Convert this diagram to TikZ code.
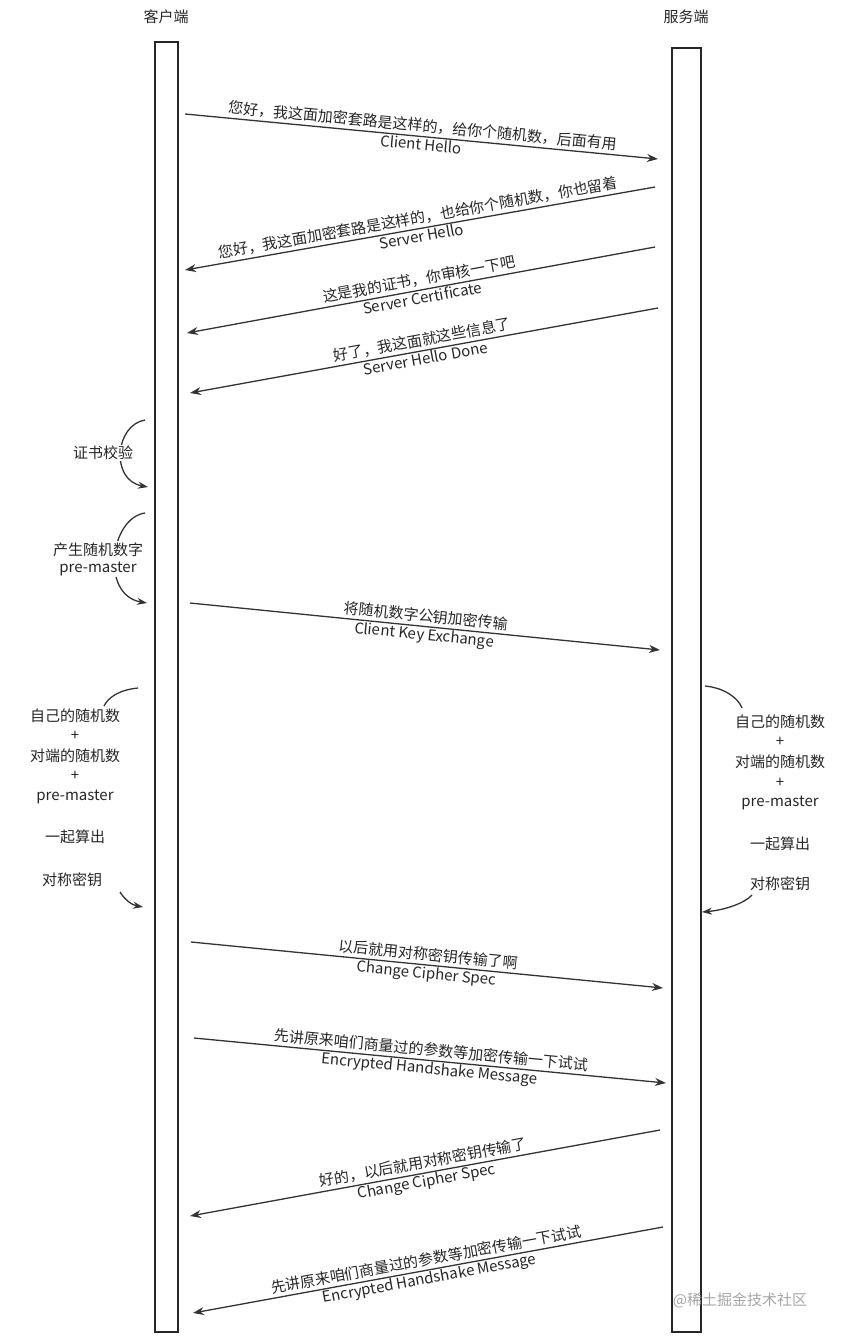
\documentclass[tikz,border=0pt]{standalone}
\usepackage{fontspec}
\setmainfont{Noto Sans CJK SC}
\usetikzlibrary{arrows.meta}
\begin{document}
\begin{tikzpicture}[x=1pt,y=-1pt,
  msg/.style={-{Stealth[length=11pt,width=8pt]},line width=1.3pt,black!80},
  curvearrow/.style={-{Stealth[length=10pt,width=7pt]},line width=1.3pt,black!80},
  curveline/.style={line width=1.3pt,black!80},
  lbl/.style={font=\fontsize{15}{17}\selectfont,text=black!85,inner sep=1pt},
  life/.style={draw=black!85,line width=1.5pt,fill=white}]
\useasboundingbox (0,0) rectangle (848,1338);
\node[lbl] (hc) at (166,17) {客户端};
\node[lbl] (hs) at (686,17) {服务端};
\draw[life] (155,42) rectangle (178,1332);
\draw[life] (672,48) rectangle (701,1332);
% messages
\coordinate (a1) at (185,114); \coordinate (b1) at (658,159);
\draw[msg] (a1) -- (b1) node[lbl,midway,sloped,above=2pt]{您好，我这面加密套路是这样的，给你个随机数，后面有用} node[lbl,midway,sloped,below=0pt]{Client Hello};
\coordinate (a2) at (655,187); \coordinate (b2) at (185,270);
\draw[msg] (a2) -- (b2) node[lbl,midway,sloped,above=2pt]{您好，我这面加密套路是这样的，也给你个随机数，你也留着} node[lbl,midway,sloped,below=0pt]{Server Hello};
\coordinate (a3) at (655,247); \coordinate (b3) at (187,333);
\draw[msg] (a3) -- (b3) node[lbl,midway,sloped,above=2pt]{这是我的证书，你审核一下吧} node[lbl,midway,sloped,below=0pt]{Server Certificate};
\coordinate (a4) at (658,308); \coordinate (b4) at (190,393);
\draw[msg] (a4) -- (b4) node[lbl,midway,sloped,above=2pt]{好了，我这面就这些信息了} node[lbl,midway,sloped,below=0pt]{Server Hello Done};
% local steps
\coordinate (c1) at (145,420); \coordinate (d1) at (148,487);
\draw[curvearrow] (c1) .. controls (115,425) and (110,480) .. (d1);
\node[lbl,fill=white] (t1) at (103,453) {证书校验};
\coordinate (c2) at (145,513); \coordinate (d2) at (147,603);
\draw[curvearrow] (c2) .. controls (110,518) and (100,595) .. (d2);
\node[lbl,align=center,fill=white] (t2) at (98,559) {产生随机数字\\pre-master};
\coordinate (a5) at (190,603); \coordinate (b5) at (660,650);
\draw[msg] (a5) -- (b5) node[lbl,midway,sloped,above=2pt]{将随机数字公钥加密传输} node[lbl,midway,sloped,below=0pt]{Client Key Exchange};
\coordinate (c3) at (138,688); \coordinate (d3) at (143,907);
\draw[curveline] (c3) .. controls (118,690) and (108,698) .. (104,706);
\draw[curvearrow] (120,892) .. controls (125,900) and (132,905) .. (d3);
\node[lbl] (l1) at (75,716) {自己的随机数};
\node[lbl] (l2) at (75,736) {+};
\node[lbl] (l3) at (75,756) {对端的随机数};
\node[lbl] (l4) at (75,776) {+};
\node[lbl] (l5) at (75,797) {pre-master};
\node[lbl] (l6) at (75,837) {一起算出};
\node[lbl] (l7) at (72,880) {对称密钥};
\coordinate (c4) at (705,686); \coordinate (d4) at (702,912);
\draw[curveline] (c4) .. controls (725,688) and (738,698) .. (742,708);
\draw[curvearrow] (752,895) .. controls (745,903) and (725,910) .. (d4);
\node[lbl] (r1) at (780,722) {自己的随机数};
\node[lbl] (r2) at (780,742) {+};
\node[lbl] (r3) at (780,762) {对端的随机数};
\node[lbl] (r4) at (780,783) {+};
\node[lbl] (r5) at (780,803) {pre-master};
\node[lbl] (r6) at (780,844) {一起算出};
\node[lbl] (r7) at (780,884) {对称密钥};
\coordinate (a6) at (191,942); \coordinate (b6) at (663,988);
\draw[msg] (a6) -- (b6) node[lbl,midway,sloped,above=2pt]{以后就用对称密钥传输了啊} node[lbl,midway,sloped,below=0pt]{Change Cipher Spec};
\coordinate (a7) at (194,1038); \coordinate (b7) at (666,1083);
\draw[msg] (a7) -- (b7) node[lbl,midway,sloped,above=2pt]{先讲原来咱们商量过的参数等加密传输一下试试} node[lbl,midway,sloped,below=0pt]{Encrypted Handshake Message};
\coordinate (a8) at (660,1130); \coordinate (b8) at (190,1216);
\draw[msg] (a8) -- (b8) node[lbl,midway,sloped,above=2pt]{好的，以后就用对称密钥传输了} node[lbl,midway,sloped,below=0pt]{Change Cipher Spec};
\coordinate (a9) at (663,1227); \coordinate (b9) at (193,1313);
\draw[msg] (a9) -- (b9) node[lbl,midway,sloped,above=2pt]{先讲原来咱们商量过的参数等加密传输一下试试} node[lbl,midway,sloped,below=0pt]{Encrypted Handshake Message};
\node[lbl,text=black!35,font=\fontsize{15}{17}\selectfont] (wm) at (740,1300) {@稀土掘金技术社区};
\end{tikzpicture}
\end{document}
